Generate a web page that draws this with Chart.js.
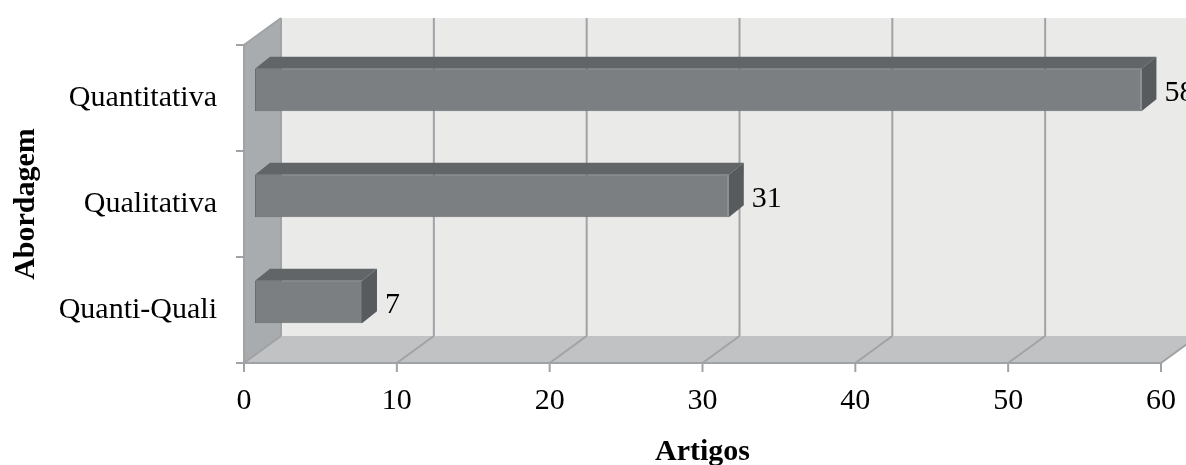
<!DOCTYPE html>
<html lang="pt">
<head>
<meta charset="utf-8">
<title>Artigos por abordagem</title>
<script src="https://cdn.jsdelivr.net/npm/chart.js@4.4.1/dist/chart.umd.min.js"></script>
<style>
  html, body { margin: 0; padding: 0; background: #fff; }
  #box { width: 1186px; height: 465px; }
</style>
</head>
<body>
<div id="box"><canvas id="grafico" width="1186" height="465"></canvas></div>
<script>
// Artigos por abordagem - barras horizontais com efeito 3D
const categorias = ['Quantitativa', 'Qualitativa', 'Quanti-Quali'];
const artigos = [58, 31, 7];
const ticksX = [0, 10, 20, 30, 40, 50, 60];

const FONTE = "'Liberation Serif', 'Times New Roman', serif";
// profundidade das paredes e deslocamentos das barras
const FUNDO = { dx: 37, dy: -27 };
const DESLOC = { dx: 11, dy: -8 };   // face frontal da barra
const TOPO = { dx: 15, dy: -12 };    // espessura da barra

const cores = {
  parede: '#eaeae9', lateral: '#a9acae', piso: '#c1c2c4', linha: '#a0a3a6',
  frente: '#7c7f82', topo: '#626568', lado: '#585b5e', borda: '#6a6d70'
};

function poly(ctx, pts, cor) {
  ctx.beginPath();
  pts.forEach(([px, py], i) => i ? ctx.lineTo(px, py) : ctx.moveTo(px, py));
  ctx.closePath();
  ctx.fillStyle = cor;
  ctx.fill();
}

const cena3d = {
  id: 'cena3d',
  beforeDatasetsDraw(chart) {
    const { ctx, chartArea: a, scales: { x } } = chart;
    const L = a.left, R = a.right, T = a.top, B = a.bottom;
    const bx = FUNDO.dx, by = FUNDO.dy;
    ctx.save();
    // parede do fundo, parede lateral e piso
    ctx.fillStyle = cores.parede;
    ctx.fillRect(L + bx, T + by, R - L, B - T);
    poly(ctx, [[L, T], [L + bx, T + by], [L + bx, B + by], [L, B]], cores.lateral);
    poly(ctx, [[L, B], [L + bx, B + by], [R + bx, B + by], [R, B]], cores.piso);

    ctx.strokeStyle = cores.linha;
    ctx.lineWidth = 2;
    ctx.beginPath();
    ticksX.forEach(v => {
      const px = x.getPixelForValue(v);
      ctx.moveTo(px + bx, T + by); ctx.lineTo(px + bx, B + by);
      ctx.moveTo(px, B); ctx.lineTo(px + bx, B + by);
      ctx.moveTo(px, B); ctx.lineTo(px, B + 9);
    });
    ctx.moveTo(L + bx, T + by); ctx.lineTo(L, T); ctx.lineTo(L, B); ctx.lineTo(R, B);
    const faixa = (B - T) / categorias.length;
    for (let i = 0; i <= categorias.length; i++) {
      ctx.moveTo(L - 8, T + i * faixa); ctx.lineTo(L, T + i * faixa);
    }
    ctx.stroke();
    ctx.restore();

    // face frontal das barras desenhada pelo Chart.js, deslocada para dentro
    ctx.save();
    ctx.translate(DESLOC.dx, DESLOC.dy);
  },
  afterDatasetsDraw(chart) {
    const { ctx } = chart;
    ctx.restore();
    const meta = chart.getDatasetMeta(0);
    ctx.save();
    meta.data.forEach((bar, i) => {
      const { x, y, base, height } = bar.getProps(['x', 'y', 'base', 'height'], true);
      const x0 = base + DESLOC.dx, x1 = x + DESLOC.dx;
      const y0 = y - height / 2 + DESLOC.dy, y1 = y + height / 2 + DESLOC.dy;
      poly(ctx, [[x0, y0], [x0 + TOPO.dx, y0 + TOPO.dy], [x1 + TOPO.dx, y0 + TOPO.dy], [x1, y0]], cores.topo);
      poly(ctx, [[x1, y0], [x1 + TOPO.dx, y0 + TOPO.dy], [x1 + TOPO.dx, y1 + TOPO.dy], [x1, y1]], cores.lado);

      ctx.fillStyle = '#000';
      ctx.font = `30px ${FONTE}`;
      ctx.textBaseline = 'middle';
      ctx.textAlign = 'left';
      ctx.fillText(String(artigos[i]), x1 + TOPO.dx + 8, y - 5);
    });
    ctx.restore();
  }
};

new Chart(document.getElementById('grafico'), {
  type: 'bar',
  data: {
    labels: categorias,
    datasets: [{
      data: artigos,
      backgroundColor: cores.frente,
      borderColor: cores.borda,
      borderWidth: 1,
      borderSkipped: false,
      barPercentage: 0.4,
      categoryPercentage: 1,
      clip: false
    }]
  },
  options: {
    indexAxis: 'y',
    responsive: false,
    animation: false,
    layout: { padding: { top: 43, right: 25, left: 0, bottom: 0 } },
    plugins: { legend: { display: false }, tooltip: { enabled: false } },
    scales: {
      x: {
        min: 0, max: 60,
        afterBuildTicks: s => { s.ticks = ticksX.map(v => ({ value: v })); },
        grid: { display: false, drawTicks: false },
        border: { display: false },
        ticks: { padding: 8, color: '#000', font: { family: FONTE, size: 30, lineHeight: 2 } },
        title: {
          display: true, text: 'Artigos', color: '#000',
          font: { family: FONTE, size: 30, weight: 'bold', lineHeight: 1 },
          padding: { top: 0, bottom: -2 }
        },
        afterFit: s => { s.height = 102; }
      },
      y: {
        grid: { display: false, drawTicks: false },
        border: { display: false },
        ticks: { padding: 27, color: '#000', font: { family: FONTE, size: 30 } },
        title: {
          display: true, text: 'Abordagem', color: '#000',
          font: { family: FONTE, size: 30, weight: 'bold', lineHeight: 1.2 },
          padding: { top: 8, bottom: 0 }
        },
        afterFit: s => { s.width = 244; }
      }
    }
  },
  plugins: [cena3d]
});
</script>
</body>
</html>
